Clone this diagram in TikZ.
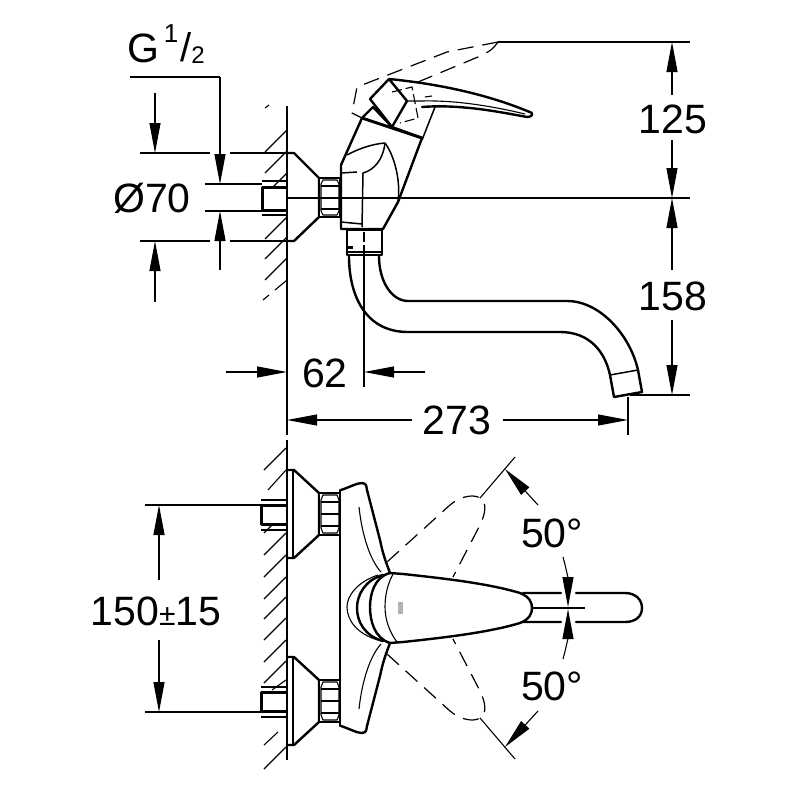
\documentclass[tikz,border=0pt]{standalone}
\usepackage{fontspec}
\setmainfont{Liberation Sans}
\usetikzlibrary{arrows.meta}
\begin{document}
\begin{tikzpicture}[
    x=1pt, y=-1pt,
    thickline/.style={line width=2.4pt, line join=round, line cap=round},
    medline/.style={line width=1.5pt, line join=round},
    thinline/.style={line width=1.1pt},
    ghost/.style={line width=1.2pt, dash pattern=on 16pt off 9pt},
    hatch/.style={line width=1.1pt},
    dimarrow/.style={line width=1.1pt, -{Triangle[length=30pt,width=11pt]}},
    dimtext/.style={font=\fontsize{41}{44}\selectfont, inner sep=0pt, anchor=center},
]
  \useasboundingbox (0,0) rectangle (800,800);

  % Hatching, side view
  \foreach \wy in {130,151,173,217,237,258}
    \draw[hatch] (265,\wy+22) -- (287,\wy);
  \draw[hatch] (265,108) -- (269,105);
  \draw[hatch] (275,290) -- (287,280);
  \draw[hatch] (263,300) -- (269,295);

  % Hatching, top view
  \foreach \wy in {448,533,555,577,597,618,640,661,747}
    \draw[hatch] (264,\wy+22) -- (286,\wy);
  \draw[hatch] (264,533) -- (274,523);
  \draw[hatch] (268,490) -- (286,470);
  \draw[hatch] (272,690) -- (286,680);
  \draw[hatch] (264,745) -- (278,732);

  % Flange and nut, side view
  \draw[thickline,fill=white] (287,153) -- (294,153) -- (319,178) -- (319,217) -- (294,241) -- (287,241);
  \draw[medline,fill=white] (319,178) rectangle (340,217);
  \draw[thinline] (321,184) -- (323,180) -- (337,180) -- (339,184) -- (339,211) -- (337,215) -- (323,215) -- (321,211) -- cycle;
  \draw[thinline] (321,186) -- (339,186) (321,198) -- (339,198) (321,209) -- (339,209);
  \draw[line width=3pt,line join=round,fill=white] (287,187) -- (262,187) -- (262,210) -- (287,210);
  \draw[medline] (262,181) -- (287,181) (262,215) -- (287,215);

  % Wall
  \draw[medline] (287,106) -- (287,310);
  \draw[medline] (287,440) -- (287,760);

  % Body, side view
  \draw[thickline,fill=white] (341,229) -- (341,165) -- (362,118) -- (373,107) -- (392,127)
    -- (422,138) -- (398,202) -- (383,229) -- cycle;
  \draw[line width=3pt] (362,118) -- (422,138);
  \draw[medline] (422,140) -- (435,107);
  \draw[medline] (347,155) .. controls (358,149) and (372,144) .. (385,143)
    .. controls (394,155) and (401,180) .. (398,202);
  \draw[medline] (341,173) -- (357,172);
  \draw[medline] (385,143) .. controls (383,160) and (374,170) .. (363,173) -- (362,227);
  \draw[medline] (341,222) -- (362,224);

  % Lever, side view
  \draw[thickline,fill=white] (422,107) .. controls (460,104) and (500,112) .. (527,117)
    .. controls (532,117) and (533,114) .. (532,113)
    .. controls (490,95) and (440,84) .. (389,79) -- (370,99) -- (392,127) -- (407,101) -- (389,79);
  \draw[thinline] (407,101) -- (422,101) .. controls (460,100) and (500,108) .. (525,114);
  \draw[thinline] (425,97) -- (432,96);

  % Ghost lever
  \draw[ghost] (498,42) -- (447,52) -- (357,87) -- (352,113) -- (362,118);
  \draw[ghost] (498,42) .. controls (492,50) .. (478,57) -- (418,82);
  \draw[thinline,dash pattern=on 10pt off 4pt] (392,92) -- (412,87) -- (418,118) -- (400,123);

  % Spout, side view
  \draw[thickline,fill=white] (347,230) rectangle (382,255);
  \draw[medline] (347,252) -- (382,252);
  \draw[thickline] (349,256) .. controls (349,295) and (365,332) .. (408,332) -- (560,332)
    .. controls (590,332) and (605,352) .. (610,375) -- (614,397) -- (642,392) -- (638,370)
    .. controls (630,335) and (600,301) .. (567,301) -- (408,301)
    .. controls (392,301) and (379,282) .. (379,256);
  \draw[medline] (610,375) -- (638,370);
  \draw[line width=3pt] (347,247) -- (353,247);

  % Centre lines and extension lines
  \draw[thinline] (287,198) -- (690,198);
  \draw[thinline] (498,42) -- (690,42);
  \draw[thinline] (630,395) -- (690,395);
  \draw[thinline,dash pattern=on 10pt off 3pt] (364,232) -- (364,255);
  \draw[thinline] (364,255) -- (364,387);
  \draw[thinline] (287,310) -- (287,435);
  \draw[thinline] (628,397) -- (628,435);
  \draw[thinline] (140,153) -- (210,153) (230,153) -- (287,153);
  \draw[thinline] (140,241) -- (210,241) (230,241) -- (287,241);
  \draw[thinline] (205,184) -- (262,184) (205,211) -- (262,211);

  % Dimensions, side view
  \coordinate (gtop) at (220,77);
  \draw[thinline] (130,77) -- (gtop);
  \draw[dimarrow] (gtop) -- (220,184);
  \draw[dimarrow] (220,270) -- (220,211);
  \draw[dimarrow] (155,93) -- (155,153);
  \draw[dimarrow] (155,302) -- (155,241);
  \draw[dimarrow] (672,95) -- (672,42);
  \draw[dimarrow] (672,140) -- (672,198);
  \draw[dimarrow] (672,270) -- (672,198);
  \draw[dimarrow] (672,320) -- (672,395);
  \draw[dimarrow] (226,372) -- (287,372);
  \draw[dimarrow] (425,372) -- (364,372);
  \draw[dimarrow] (412,420) -- (287,420);
  \draw[dimarrow] (503,420) -- (628,420);

  \node[dimtext] (gsize) at (143,48) {G};
  \node[inner sep=0pt,font=\fontsize{26}{28}\selectfont] (gone) at (171,34) {1};
  \node[inner sep=0pt,font=\fontsize{40}{42}\selectfont] (gslash) at (186,47) {/};
  \node[inner sep=0pt,font=\fontsize{24}{26}\selectfont] (gtwo) at (198,55) {2};
  \node[dimtext] (dia) at (152,198) {Ø70};
  \node[dimtext] (lev) at (673,119) {125};
  \node[dimtext] (drop) at (673,296) {158};
  \node[dimtext] (depth) at (325,373) {62};
  \node[dimtext] (reach) at (457,420) {273};

  % Flanges and nuts, top view
  \foreach \fy in {514,701} {
    \draw[thickline,fill=white] (287,\fy-44) -- (294,\fy-44) -- (319,\fy-21) -- (319,\fy+21) -- (294,\fy+44) -- (287,\fy+44);
    \draw[thinline] (293,\fy-44) -- (293,\fy+44);
    \draw[medline,fill=white] (319,\fy-21) rectangle (340,\fy+21);
    \draw[thinline] (321,\fy-14) -- (323,\fy-19) -- (337,\fy-19) -- (339,\fy-14) -- (339,\fy+14) -- (337,\fy+19) -- (323,\fy+19) -- (321,\fy+14) -- cycle;
    \draw[thinline] (321,\fy-12) -- (339,\fy-12) (321,\fy) -- (339,\fy) (321,\fy+12) -- (339,\fy+12);
    \draw[line width=3pt,line join=round,fill=white] (286,\fy-9) -- (261,\fy-9) -- (261,\fy+10) -- (286,\fy+10);
    \draw[medline] (261,\fy-14) -- (286,\fy-14) (261,\fy+16) -- (286,\fy+16);
  }
  \draw[medline] (287,440) -- (287,760);

  % Plate, top view
  \draw[thickline] (340,490) -- (340,726);
  \draw[thickline] (341,490) .. controls (350,487) and (357,483) .. (362,483)
    .. controls (366,484) .. (367,490) -- (380,540) .. controls (383,555) and (387,565) .. (390,573);
  \draw[thickline] (341,726) .. controls (350,729) and (357,733) .. (362,733)
    .. controls (366,732) .. (367,726) -- (380,676) .. controls (383,661) and (387,651) .. (390,643);
  \draw[thinline] (359,507) .. controls (362,535) and (370,560) .. (381,572);
  \draw[thinline] (359,709) .. controls (362,681) and (370,656) .. (381,644);

  % Ghost levers, top view
  \foreach \mirror/\base in {1/0,-1/1216} {
    \begin{scope}[shift={(0,\base)},yscale=\mirror]
      \draw[ghost] (387,562) -- (450,505) .. controls (458,498) and (472,493) .. (480,498)
        .. controls (487,503) and (486,512) .. (480,525) -- (453,577);
      \draw[thinline] (423,578) -- (430,580);
      \draw[thinline] (480,498) -- (515,457);
      \draw[dimarrow] (538,505) -- (505,469);
      \draw[dimarrow] (563,557) .. controls (566,568) and (568,578) .. (568,607);
    \end{scope}
  }

  % Spout, top view
  \draw[thickline] (523,593) -- (561,593) (576,593) -- (625,593)
    .. controls (636,593) and (642,600) .. (642,608)
    .. controls (642,616) and (636,622) .. (625,622) -- (576,622) (561,622) -- (523,622);
  \draw[thinline] (533,608) -- (585,608);

  % Lever, top view
  \draw[thickline,fill=white] (390,573) -- (403,574) .. controls (450,579) and (490,584) .. (520,593)
    .. controls (530,597) and (532,603) .. (532,608)
    .. controls (532,613) and (530,619) .. (520,623)
    .. controls (490,632) and (450,637) .. (403,642) -- (390,643);
  \draw[thickline] (390,573) .. controls (374,577) and (370,595) .. (370,607)
    .. controls (370,620) and (374,638) .. (390,643);
  \draw[thickline] (383,575) .. controls (365,580) and (357,595) .. (357,608)
    .. controls (357,622) and (365,636) .. (383,641);
  \draw[thinline] (378,575) .. controls (357,582) and (347,596) .. (347,607)
    .. controls (347,620) and (357,634) .. (378,640);
  \draw[thinline] (393,574) .. controls (387,585) and (385,597) .. (385,607)
    .. controls (385,620) and (390,633) .. (397,642);
  \fill[gray!60] (398,602) rectangle (403,614);

  % Dimensions, top view
  \draw[thinline] (145,505) -- (261,505) (145,712) -- (261,712);
  \draw[dimarrow] (159,580) -- (159,505);
  \draw[dimarrow] (159,640) -- (159,712);
  \node[dimtext] (span) at (156,611) {150{\fontsize{30}{32}\selectfont ±}15};
  \node[dimtext] (angup) at (552,533) {50°};
  \node[dimtext] (angdown) at (552,686) {50°};
\end{tikzpicture}
\end{document}
